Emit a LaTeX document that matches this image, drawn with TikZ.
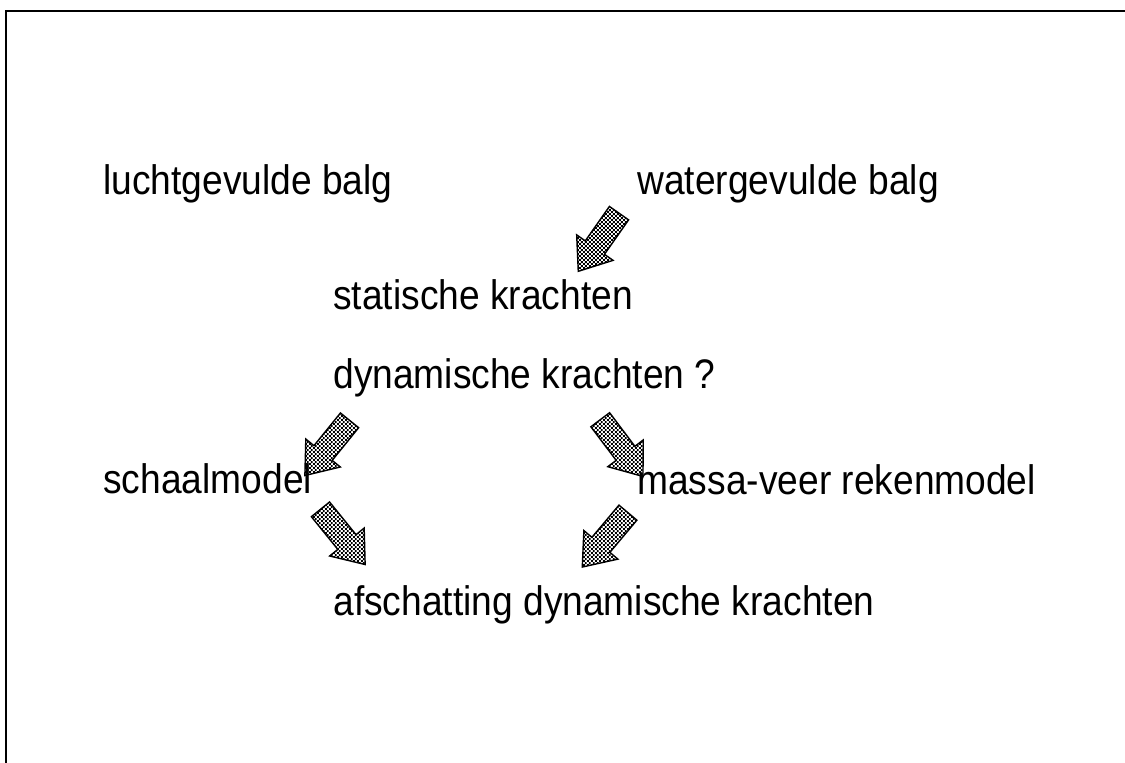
\documentclass[tikz,border=0pt]{standalone}
\usepackage{fontspec}
\setmainfont{Liberation Sans}[FakeStretch=0.9]
\usetikzlibrary{shapes.arrows,patterns}
\pgfdeclarepatternformonly{finecheck}{\pgfpointorigin}{\pgfpoint{2.2pt}{2.2pt}}{\pgfpoint{2.2pt}{2.2pt}}{%
\pgfpathrectangle{\pgfpointorigin}{\pgfpoint{1.1pt}{1.1pt}}%
\pgfpathrectangle{\pgfpoint{1.1pt}{1.1pt}}{\pgfpoint{1.1pt}{1.1pt}}%
\pgfusepath{fill}}

\begin{document}
\begin{tikzpicture}[x=0.02cm,y=-0.02cm,font=\fontsize{23.5}{28}\selectfont,every node/.style={anchor=base west,inner sep=0pt},
fatarrow/.style={single arrow,draw,line width=.8pt,fill=gray!45,pattern=finecheck,inner xsep=0pt,inner ysep=0.22cm,minimum height=1.42cm,single arrow head extend=0.21cm,single arrow tip angle=75,anchor=center}]
\useasboundingbox (0,0) rectangle (1125,763);
\draw[line width=1.1pt] (6,763) -- (6,11) -- (1125,11);
\node (lucht) at (103,195) {luchtgevulde balg};
\node (water) at (637,195) {watergevulde balg};
\node (stat) at (333,310) {statische krachten};
\node (dyn) at (333,388) {dynamische krachten ?};
\node (schaal) at (103,493) {schaalmodel};
\node (massa) at (637,494) {massa-veer rekenmodel};
\node (afsch) at (333,615) {afschatting dynamische krachten};
\node[fatarrow,rotate=235] (pijl1) at (603,236) {};
\node[fatarrow,rotate=231] (pijl2) at (332,442) {};
\node[fatarrow,rotate=307] (pijl3) at (617,442) {};
\node[fatarrow,rotate=309] (pijl4) at (338,531) {};
\node[fatarrow,rotate=230] (pijl5) at (610,534) {};
\end{tikzpicture}
\end{document}
